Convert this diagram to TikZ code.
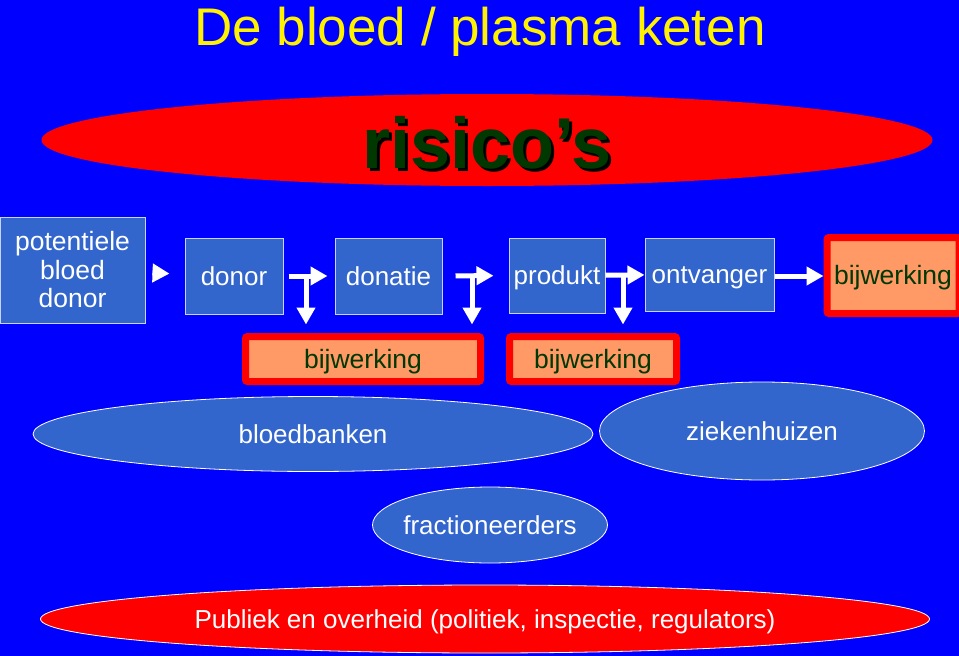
\documentclass[tikz,border=0pt]{standalone}
\usepackage{fontspec}
\setmainfont{Liberation Sans}
\usetikzlibrary{shapes.geometric,arrows.meta}

\definecolor{achtergrond}{RGB}{0,0,255}
\definecolor{vakblauw}{RGB}{51,102,204}
\definecolor{vakrand}{RGB}{200,210,255}
\definecolor{zalm}{RGB}{255,153,102}
\definecolor{donkergroen}{RGB}{0,56,0}

\tikzset{
    regel/.style={text height=20pt, text depth=2pt},
    schakel/.style={rectangle, fill=vakblauw, draw=vakrand, line width=1pt,
        text=white, inner sep=0pt, font=\fontsize{26}{28.5}\selectfont},
    bijwerking/.style={rectangle, rounded corners=2pt, fill=zalm, draw=red,
        line width=7pt, text=donkergroen, inner sep=0pt, regel,
        font=\fontsize{26.5}{29}\selectfont},
    partij/.style={ellipse, fill=vakblauw, draw=white, line width=0.8pt,
        text=white, inner sep=0pt, regel, font=\fontsize{26}{29}\selectfont},
    pijl/.style={draw=white, line width=5pt, -{Triangle[length=17pt,width=18pt]}}
}

\newcommand{\schaduwtekst}[1]{\makebox[0pt][l]{\kern3pt\raisebox{-3pt}{\color{black}#1}}#1}

\begin{document}
\begin{tikzpicture}[x=1pt,y=-1pt]

    \fill[achtergrond] (0,0) rectangle (959,656);
    \useasboundingbox (0,0) rectangle (959,656);

    \node[anchor=base, text=yellow, font=\fontsize{53}{60}\selectfont] (titel) at (480,45) {De bloed / plasma keten};

    \node[ellipse, fill=red, minimum width=891pt, minimum height=92pt, inner sep=0pt] (risicos) at (487,140) {};
    \node[anchor=base, text=donkergroen, font=\bfseries\fontsize{72}{80}\selectfont] (risicotekst) at (487,168) {\schaduwtekst{risico’s}};

    % de keten
    \node[schakel, minimum width=145pt, minimum height=106pt, align=center, font=\fontsize{26.5}{28.5}\selectfont] (potentieel) at (72.5,270) {potentiele\\bloed\\donor};
    \node[schakel, regel, minimum width=98pt, minimum height=76pt] (donor) at (234,276) {donor};
    \node[schakel, regel, minimum width=107pt, minimum height=76pt] (donatie) at (388.5,276) {donatie};
    \node[schakel, regel, minimum width=96pt, minimum height=75pt] (produkt) at (557,275.5) {produkt};
    \node[schakel, regel, minimum width=129pt, minimum height=73pt] (ontvanger) at (709.5,274.5) {ontvanger};

    \node[bijwerking, minimum width=132pt, minimum height=76pt] (bijwerking3) at (893,275.5) {bijwerking};
    \node[bijwerking, minimum width=235pt, minimum height=45pt] (bijwerking1) at (363,359) {bijwerking};
    \node[bijwerking, minimum width=167pt, minimum height=45pt] (bijwerking2) at (593,359) {bijwerking};

    \draw[pijl, shorten <=7pt, shorten >=15pt] (potentieel) -- (donor);
    \draw[pijl, shorten <=5pt, shorten >=7pt] (donor) -- (donatie);
    \draw[pijl, shorten <=13pt, shorten >=15pt] (donatie) -- (produkt);
    \draw[pijl] (produkt) -- (ontvanger);
    \draw[pijl] (ontvanger.east |- 0,276) -- (bijwerking3.west |- 0,276);

    \coordinate (tak1) at (306,276);
    \coordinate (tak2) at (472,276);
    \coordinate (tak3) at (623,276);
    \draw[pijl, shorten >=8.5pt] (tak1) -- (tak1 |- bijwerking1.north);
    \draw[pijl, shorten >=8.5pt] (tak2) -- (tak2 |- bijwerking1.north);
    \draw[pijl, shorten >=8.5pt] (tak3) -- (tak3 |- bijwerking2.north);

    % de partijen
    \node[partij, minimum width=560pt, minimum height=75pt] (bloedbanken) at (313,434) {bloedbanken};
    \node[partij, minimum width=325pt, minimum height=98pt] (ziekenhuizen) at (762,431) {ziekenhuizen};
    \node[partij, inner xsep=-10pt, minimum width=235pt, minimum height=76pt] (fractioneerders) at (490,525) {fractioneerders};
    \node[partij, fill=red, minimum width=889pt, minimum height=68pt] (publiek) at (485,619) {Publiek en overheid (politiek, inspectie, regulators)};

\end{tikzpicture}
\end{document}
